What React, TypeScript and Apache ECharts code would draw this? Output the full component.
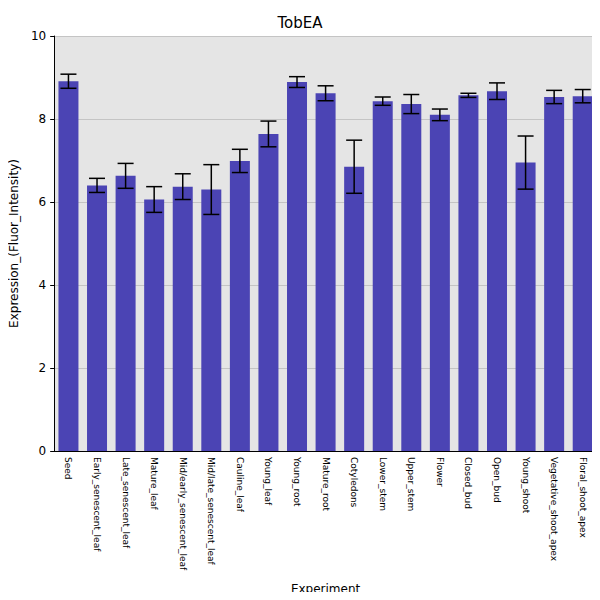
import { useEffect, useRef } from 'react';
import * as echarts from 'echarts';

const categories = [
  'Seed', 'Early_senescent_leaf', 'Late_senescent_leaf', 'Mature_leaf', 'Mid/early_senescent_leaf',
  'Mid/late_senescent_leaf', 'Cauline_leaf', 'Young_leaf', 'Young_root', 'Mature_root', 'Cotyledons',
  'Lower_stem', 'Upper_stem', 'Flower', 'Closed_bud', 'Open_bud', 'Young_shoot',
  'Vegetative_shoot_apex', 'Floral_shoot_apex',
];
const values = [8.91, 6.4, 6.63, 6.06, 6.37, 6.3, 6.99, 7.64, 8.89, 8.62, 6.85, 8.43, 8.36, 8.1, 8.57, 8.67, 6.95, 8.53, 8.55];
const errors = [0.17, 0.17, 0.3, 0.31, 0.31, 0.6, 0.28, 0.31, 0.13, 0.18, 0.64, 0.1, 0.23, 0.14, 0.05, 0.2, 0.64, 0.16, 0.16];

export default function App() {
  const ref = useRef<HTMLDivElement>(null);

  useEffect(() => {
    if (!ref.current) return;
    const chart = echarts.init(ref.current, undefined, { renderer: 'svg' });
    const font = 'DejaVu Sans';
    chart.setOption({
      animation: false,
      textStyle: { fontFamily: font },
      title: { text: 'TobEA', left: 'center', top: 10, textStyle: { fontSize: 15, fontWeight: 'normal', color: '#000', fontFamily: font } },
      grid: { left: 50, right: 3, top: 36, bottom: 145, backgroundColor: '#e5e5e5', show: true, borderWidth: 0 },
      xAxis: {
        type: 'category',
        data: categories,
        name: 'Experiment',
        nameLocation: 'middle',
        nameGap: 132,
        nameTextStyle: { fontSize: 12, color: '#000' },
        axisLine: { lineStyle: { color: '#000' } },
        axisTick: { show: false },
        axisLabel: { rotate: -90, fontSize: 9, color: '#000', interval: 0, margin: 6 },
      },
      yAxis: {
        type: 'value',
        min: 0,
        max: 10,
        interval: 2,
        name: 'Expression_(Fluor_Intensity)',
        nameLocation: 'middle',
        nameGap: 32,
        nameTextStyle: { fontSize: 12, color: '#000' },
        axisLine: { show: true, lineStyle: { color: '#000' } },
        axisTick: { show: true, length: 4, lineStyle: { color: '#000' } },
        axisLabel: { fontSize: 12, color: '#000' },
        splitLine: { lineStyle: { color: '#c4c4c4' } },
      },
      series: [
        {
          type: 'bar',
          data: values,
          barWidth: '70%',
          itemStyle: { color: '#4b44b4' },
        },
        {
          type: 'custom',
          data: values.map((v, i) => [i, v - errors[i], v + errors[i]]),
          z: 10,
          renderItem: (params: any, api: any) => {
            const lo = api.coord([api.value(0), api.value(1)]);
            const hi = api.coord([api.value(0), api.value(2)]);
            const w = 8;
            const style = { stroke: '#000', lineWidth: 1.5 };
            return {
              type: 'group',
              children: [
                { type: 'line', shape: { x1: hi[0], y1: hi[1], x2: lo[0], y2: lo[1] }, style },
                { type: 'line', shape: { x1: hi[0] - w, y1: hi[1], x2: hi[0] + w, y2: hi[1] }, style },
                { type: 'line', shape: { x1: lo[0] - w, y1: lo[1], x2: lo[0] + w, y2: lo[1] }, style },
              ],
            };
          },
        },
      ],
      graphic: [
        { type: 'rect', shape: { x: 0.5, y: 0.5, width: 599, height: 599 }, style: { fill: 'none', stroke: '#888' } },
      ],
    });
    return () => chart.dispose();
  }, []);

  return <div ref={ref} style={{ width: 600, height: 600, margin: -8 }} />;
}
